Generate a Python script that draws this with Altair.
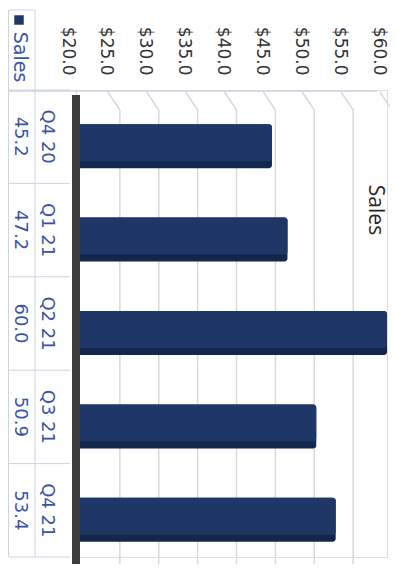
import altair as alt
import pandas as pd

# ---- data ----
categories = ["Q4 20", "Q1 21", "Q2 21", "Q3 21", "Q4 21"]
sales = [45.2, 47.2, 60.0, 50.9, 53.4]
value_labels = ["45.2", "47.2", "60.0", "50.9", "53.4"]
tick_values = [20, 25, 30, 35, 40, 45, 50, 55, 60]
series_name = "Sales"
chart_title = "Sales"

df = pd.DataFrame({"quarter": categories, "sales": sales, "label": value_labels})
ticks_df = pd.DataFrame({"v": tick_values})
one = pd.DataFrame({"a": [0]})

W, H = 311, 467
NAVY = "#1f3767"
NAVY_DARK = "#12274b"
TABLE_BLUE = "#3b52a3"
LINE = "#cdd3e0"
GRID = "#d9d9d9"

xs = alt.Scale(domain=[20, 60], zero=False, nice=False)
ys = alt.Scale(domain=categories, paddingInner=0, paddingOuter=0)

x_axis = alt.Axis(
    orient="top",
    values=tick_values,
    format="$.1f",
    labelAngle=90,
    labelAlign="right",
    labelBaseline="middle",
    labelPadding=15,
    labelOffset=-9,
    labelFont="DejaVu Sans",
    labelFontSize=17,
    labelColor="#333333",
    ticks=False,
    domain=False,
    grid=False,
    title=None,
)


def X(field):
    return alt.X(field, scale=xs, axis=x_axis, title=None)


# gridlines (back wall) and side-wall diagonals
grid = alt.Chart(ticks_df).transform_filter(alt.datum.v > 20).mark_rule(
    color=GRID, strokeWidth=1.5, xOffset=5
).encode(x=X("v:Q"), y=alt.value(20), y2=alt.value(474))

diag = alt.Chart(ticks_df).transform_filter(alt.datum.v > 20).mark_rule(
    color=GRID, strokeWidth=1.5, xOffset=-7, x2Offset=5
).encode(x=X("v:Q"), x2="v:Q", y=alt.value(2), y2=alt.value(20))

bars_shadow = alt.Chart(df).mark_bar(
    color=NAVY_DARK, size=44, yOffset=9.5, cornerRadiusEnd=3
).encode(
    x=X("sales:Q"),
    x2=alt.datum(20),
    y=alt.Y("quarter:N", scale=ys, axis=None, sort=categories),
)
bars_face = alt.Chart(df).mark_bar(
    color=NAVY, size=37, yOffset=6, cornerRadiusEnd=3
).encode(
    x=X("sales:Q"),
    x2=alt.datum(20),
    y=alt.Y("quarter:N", scale=ys, axis=None, sort=categories),
)

LEFT = -67.5  # table left border (page x ~8.5)

# data table lines
h_lines = alt.Chart(df).mark_rule(color=LINE, strokeWidth=1).encode(
    x=alt.value(LEFT), x2=alt.value(-6),
    y=alt.Y("quarter:N", scale=ys, axis=None, bandPosition=0, sort=categories),
)
bottom_line = alt.Chart(one).mark_rule(color=LINE, strokeWidth=1).encode(
    x=alt.value(LEFT), x2=alt.value(-6), y=alt.value(H)
)
top_line = alt.Chart(one).mark_rule(color=LINE, strokeWidth=1.5).encode(
    x=alt.value(LEFT), x2=alt.value(301), y=alt.value(1)
)
v_line1 = alt.Chart(one).mark_rule(color=LINE, strokeWidth=1).encode(
    x=alt.value(LEFT), y=alt.value(-80), y2=alt.value(H)
)
v_line2 = alt.Chart(one).mark_rule(color=LINE, strokeWidth=1).encode(
    x=alt.value(-41), y=alt.value(-80), y2=alt.value(H)
)
legend_top = alt.Chart(one).mark_rule(color=LINE, strokeWidth=1).encode(
    x=alt.value(LEFT), x2=alt.value(-41), y=alt.value(-80)
)

cat_text = alt.Chart(df).mark_text(
    angle=90, align="center", baseline="middle", font="DejaVu Sans", fontSize=18, color=TABLE_BLUE
).encode(
    x=alt.value(-29),
    y=alt.Y("quarter:N", scale=ys, axis=None, sort=categories),
    text="quarter:N",
)
val_text = alt.Chart(df).mark_text(
    angle=90, align="center", baseline="middle", font="DejaVu Sans", fontSize=18, color=TABLE_BLUE
).encode(
    x=alt.value(-56),
    y=alt.Y("quarter:N", scale=ys, axis=None, sort=categories),
    text="label:N",
)

legend_sq = alt.Chart(one).mark_square(size=90, color=NAVY, opacity=1, filled=True).encode(
    x=alt.value(-57), y=alt.value(-70)
)
legend_txt = alt.Chart(pd.DataFrame({"t": [series_name]})).mark_text(
    angle=90, align="center", baseline="middle", font="DejaVu Sans", fontSize=19, color="#3b55a8"
).encode(x=alt.value(-56), y=alt.value(-33), text="t:N")

title_txt = alt.Chart(pd.DataFrame({"t": [chart_title]})).mark_text(
    angle=90, align="center", baseline="middle", font="Open Sans", fontSize=21, color="#262626"
).encode(x=alt.value(299), y=alt.value(120), text="t:N")

floor = alt.Chart(one).mark_rect(color="#3d3d3d").encode(
    x=alt.value(-4), x2=alt.value(4), y=alt.value(5), y2=alt.value(474)
)

chart = alt.layer(
    grid, diag, h_lines, bottom_line, top_line, v_line1, v_line2, legend_top,
    bars_shadow, bars_face, floor, cat_text, val_text, legend_sq, legend_txt, title_txt,
).properties(
    width=W,
    height=H,
    autosize=alt.AutoSizeParams(type="none"),
    padding={"left": 68, "top": 82, "right": 3, "bottom": 7},
).configure_view(stroke=None).configure(background="white")

chart.save("out.html", embed_options={"renderer": "svg", "actions": False})
